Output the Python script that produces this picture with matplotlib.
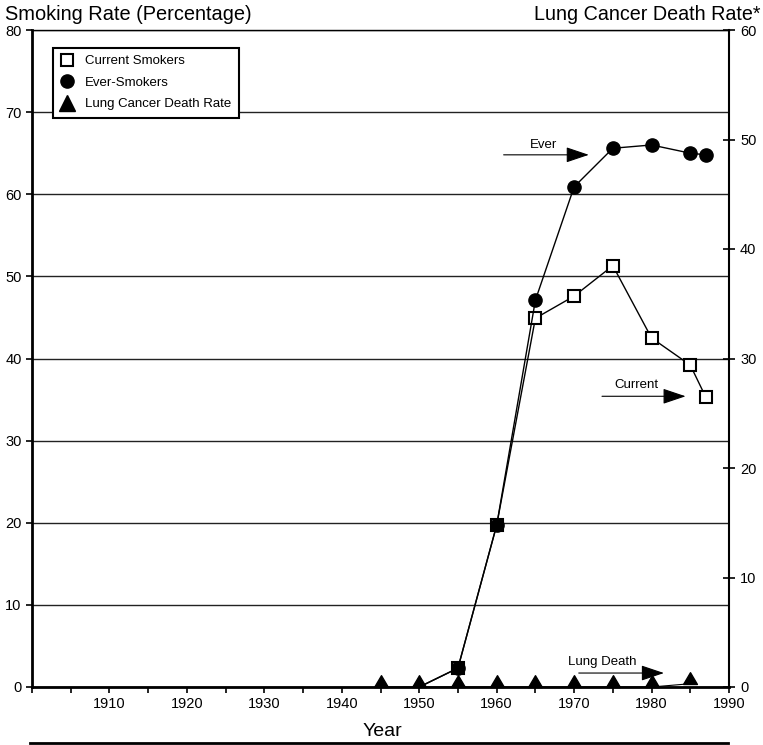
import numpy as np
import matplotlib
matplotlib.use("Agg")
import matplotlib.pyplot as plt
from matplotlib.path import Path
from matplotlib.lines import Line2D

plt.rcParams['font.family'] = ['Liberation Sans', 'DejaVu Sans']

# data
smoke_years = [1950, 1955, 1960, 1965, 1970, 1975, 1980, 1985, 1987]
current_smokers = [0, 2.3, 19.7, 44.9, 47.6, 51.3, 42.5, 39.2, 35.3]
ever_smokers = [0, 2.3, 19.7, 47.1, 60.9, 65.6, 66.0, 65.0, 64.8]

lung_years = [1945, 1950, 1955, 1960, 1965, 1970, 1975, 1980, 1985]
lung_death_rate = [0, 0, 0, 0, 0, 0, 0, 0, 0.3]

# triangle that sits on its data point (base on the point)
tri_verts = [(-1, 0), (1, 0), (0, 1.7), (-1, 0)]
tri_marker = Path(tri_verts, [Path.MOVETO, Path.LINETO, Path.LINETO, Path.CLOSEPOLY])

fig = plt.figure(figsize=(7.63, 7.45), dpi=100)
ax = fig.add_axes([32 / 763, 58 / 745, 697 / 763, 657 / 745])

ax.set_xlim(1900, 1990)
ax.set_ylim(0, 80)
ax.set_yticks(np.arange(0, 81, 10))
ax.set_xticks(np.arange(1900, 1991, 10))
ax.set_xticklabels([''] + [str(y) for y in range(1910, 1991, 10)])
ax.set_xticks(np.arange(1905, 1990, 10), minor=True)
ax.tick_params(axis='both', which='both', direction='out', length=4, width=1.2,
               labelsize=10.5, colors='black')
ax.yaxis.grid(True, color='#222222', lw=1)
ax.set_axisbelow(True)
for side in ['left', 'bottom']:
    ax.spines[side].set_linewidth(2)
ax.spines['top'].set_linewidth(1)
ax.spines['right'].set_visible(False)

ax.plot(smoke_years, current_smokers, color='black', lw=1, marker='s', ms=8.5,
        mfc='white', mec='black', mew=1.5, markevery=slice(1, None), zorder=3,
        clip_on=False)
ax.plot(smoke_years, ever_smokers, color='black', lw=1, marker='o', ms=9.5,
        mfc='black', mec='black', markevery=slice(1, None), zorder=4,
        clip_on=False)

ax2 = ax.twinx()
ax2.set_ylim(0, 60)
ax2.set_yticks(np.arange(0, 61, 10))
ax2.tick_params(axis='y', direction='inout', length=9, width=1.2, labelsize=10.5)
ax2.spines['right'].set_linewidth(1.5)
for side in ['left', 'top', 'bottom']:
    ax2.spines[side].set_visible(False)
ax2.plot(lung_years, lung_death_rate, color='black', lw=0.8, marker=tri_marker,
         ms=17, mfc='black', mec='black', zorder=5, clip_on=False)

arrow = dict(arrowstyle='-|>,head_length=0.95,head_width=0.32', color='black',
             lw=0.8, mutation_scale=15, shrinkA=0, shrinkB=0)
ax.annotate('', xy=(1971.9, 64.8), xytext=(1960.9, 64.8), arrowprops=arrow)
ax.text(1966.1, 66.0, 'Ever', ha='center', va='center', fontsize=9.5)
ax.annotate('', xy=(1984.4, 35.4), xytext=(1973.6, 35.4), arrowprops=arrow)
ax.text(1978.0, 36.8, 'Current', ha='center', va='center', fontsize=9.5)
ax.annotate('', xy=(1981.6, 1.7), xytext=(1970.6, 1.7), arrowprops=arrow)
ax.text(1973.6, 3.0, 'Lung Death', ha='center', va='center', fontsize=9.5)

handles = [
    Line2D([], [], ls='none', marker='s', ms=8, mfc='white', mec='black', mew=1.5),
    Line2D([], [], ls='none', marker='o', ms=9.5, mfc='black', mec='black'),
    Line2D([], [], ls='none', marker='^', ms=11, mfc='black', mec='black'),
]
leg = ax2.legend(handles, ['Current Smokers', 'Ever-Smokers', 'Lung Cancer Death Rate'],
                 loc='upper left', bbox_to_anchor=(0.030, 0.9726), borderaxespad=0,
                 fontsize=9.5, fancybox=False, framealpha=1, edgecolor='black',
                 handlelength=1.0, handletextpad=0.9, labelspacing=0.7,
                 borderpad=0.55)
leg.get_frame().set_linewidth(1.5)

fig.text(5 / 763, 1 - 14 / 745, 'Smoking Rate (Percentage)', ha='left', va='center',
         fontsize=14.4)
fig.text(760 / 763, 1 - 14 / 745, 'Lung Cancer Death Rate*', ha='right', va='center',
         fontsize=14.2)
fig.text(382 / 763, 1 - 732 / 745, 'Year', ha='center', va='center', fontsize=14)
fig.add_artist(Line2D([30 / 763, 728 / 763], [2 / 745, 2 / 745], color='black', lw=2))

fig.savefig('out.png', dpi=100)
